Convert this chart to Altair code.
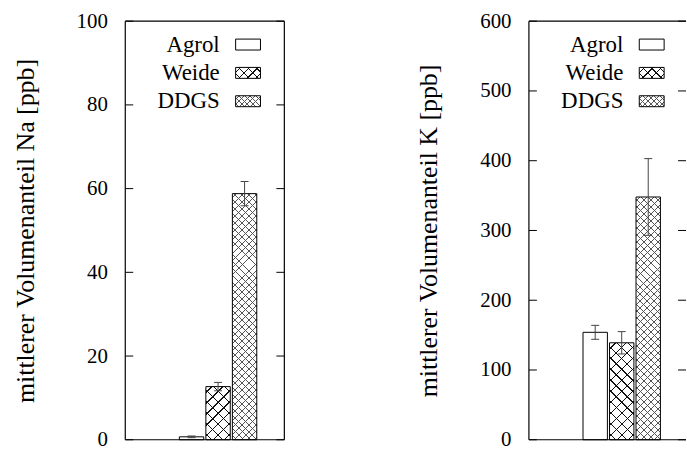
import altair as alt
import pandas as pd

# ---- data ----
categories = ["Agrol", "Weide", "DDGS"]
na_values = [0.7, 12.7, 58.8]
na_errors = [0.2, 1.0, 2.9]
k_values = [154, 139, 348]
k_errors = [10, 16, 55]
na_ticks = [0, 20, 40, 60, 80, 100]
k_ticks = [0, 100, 200, 300, 400, 500, 600]
na_title = "mittlerer Volumenanteil Na [ppb]"
k_title = "mittlerer Volumenanteil K [ppb]"

# ---- styling ----
FONT = "Liberation Serif"
H = 421
UNIT = 160 / 6.0
HALF = 0.46
PATTERNS = {
    "Agrol": None,
    "Weide": dict(p=11, lw=0.9, color="#111111"),
    "DDGS": dict(p=7, lw=0.7, color="#555555"),
}


def hatch(w, h, p, lw, color, slope):
    r = h / w
    k = max(1.0, (w + h) / (w * (1 + r * r)))
    L = k * w * (1 + r * r)
    clear = "rgba(255,255,255,0)"
    stops = [{"offset": 0, "color": clear}]
    t = p / 2.0
    while t < w + h:
        a = t / L
        b = (t + lw * 1.4142) / L
        if b > 1:
            break
        stops += [{"offset": a, "color": clear}, {"offset": a, "color": color},
                  {"offset": b, "color": color}, {"offset": b, "color": clear}]
        t += p
    stops.append({"offset": 1, "color": clear})
    if slope > 0:
        coords = dict(x1=0, y1=0, x2=k, y2=k * r)
    else:
        coords = dict(x1=0, y1=1, x2=k, y2=1 - k * r)
    return alt.LinearGradient(gradient="linear",
                              stops=[alt.GradientStop(**s) for s in stops],
                              **coords)


def panel(values, errors, ticks, ymax, title, W, right_edge):
    df = pd.DataFrame({"cat": categories, "idx": list(range(len(categories))),
                       "v": values, "e": errors})
    xs = alt.Scale(domain=[-2.5, -2.5 + W / UNIT])
    ys = alt.Scale(domain=[0, ymax], nice=False, zero=True)
    yaxis = alt.Axis(values=ticks, ticks=False, tickSize=0, domain=False, grid=False,
                     labelFont=FONT, labelFontSize=21, labelColor="black",
                     labelPadding=18, labelFlush=False,
                     title=title, titleFont=FONT, titleFontSize=26,
                     titleFontWeight="normal", titleColor="black", titlePadding=38)

    def Y(field):
        return alt.Y(field, scale=ys, axis=yaxis)

    base = alt.Chart(df).transform_calculate(
        x0=f"datum.idx - {HALF}", x1=f"datum.idx + {HALF}",
        lo="datum.v - datum.e", hi="datum.v + datum.e",
        c0="datum.idx - 0.15", c1="datum.idx + 0.15", z="0")
    X = alt.X("x0:Q", scale=xs, axis=None)
    X2 = alt.X2("x1:Q")
    layers = []
    layers.append(base.mark_rect(fill="white", strokeWidth=0).encode(
        x=X, x2=X2, y=Y("v:Q"), y2="z:Q"))
    w = 2 * HALF * UNIT
    for i, cat in enumerate(categories):
        pat = PATTERNS[cat]
        if not pat:
            continue
        h = values[i] / ymax * H
        for s in (1, -1):
            layers.append(base.transform_filter(alt.datum.cat == cat).mark_rect(
                fill=hatch(w, h, pat["p"], pat["lw"], pat["color"], s), strokeWidth=0).encode(
                x=X, x2=X2, y=Y("v:Q"), y2="z:Q"))
    layers.append(base.mark_rect(fill="white", fillOpacity=0, stroke="black", strokeWidth=1).encode(
        x=X, x2=X2, y=Y("v:Q"), y2="z:Q"))
    # error bars
    layers.append(base.mark_rule(color="#444444", strokeWidth=1).encode(
        x=alt.X("idx:Q", scale=xs, axis=None), y=Y("lo:Q"), y2="hi:Q"))
    for col in ("lo", "hi"):
        layers.append(base.mark_rule(color="#444444", strokeWidth=1).encode(
            x=alt.X("c0:Q", scale=xs, axis=None), x2="c1:Q", y=Y(f"{col}:Q")))
    # inward ticks on both sides
    tdf = pd.DataFrame({"t": ticks})
    tick_base = alt.Chart(tdf).mark_rule(color="black", strokeWidth=1)
    layers.append(tick_base.encode(y=Y("t:Q"), x=alt.value(0), x2=alt.value(8)))
    layers.append(tick_base.encode(y=Y("t:Q"), x=alt.value(W - 8), x2=alt.value(W)))
    # frame
    one = alt.Chart(pd.DataFrame({"a": [0]}))
    fr = one.mark_rule(color="black", strokeWidth=1.2)
    layers.append(fr.encode(x=alt.value(0), y=alt.value(0), y2=alt.value(H)))
    layers.append(fr.encode(x=alt.value(0), x2=alt.value(W), y=alt.value(0)))
    layers.append(fr.encode(x=alt.value(0), x2=alt.value(W), y=alt.value(H)))
    if right_edge:
        layers.append(fr.encode(x=alt.value(W), y=alt.value(0), y2=alt.value(H)))
    # legend (label left of sample box)
    rows = [23.5, 52, 80.5]
    for i, cat in enumerate(categories):
        yc = rows[i]
        layers.append(one.mark_text(align="right", baseline="middle", font=FONT,
                                    fontSize=23, color="black").encode(
            x=alt.value(95), y=alt.value(yc), text=alt.value(cat)))
        layers.append(one.mark_rect(fill="white", strokeWidth=0).encode(
            x=alt.value(111), x2=alt.value(136), y=alt.value(yc - 5.5), y2=alt.value(yc + 5.5)))
        pat = PATTERNS[cat]
        if pat:
            for s in (1, -1):
                layers.append(one.mark_rect(
                    fill=hatch(25, 11, pat["p"] * 0.8, pat["lw"], pat["color"], s),
                    strokeWidth=0).encode(
                    x=alt.value(111), x2=alt.value(136), y=alt.value(yc - 5.5), y2=alt.value(yc + 5.5)))
        layers.append(one.mark_rect(fill="white", fillOpacity=0, stroke="black", strokeWidth=1).encode(
            x=alt.value(111), x2=alt.value(136), y=alt.value(yc - 5.5), y2=alt.value(yc + 5.5)))
    return alt.layer(*layers).properties(width=W, height=H)


left = panel(na_values, na_errors, na_ticks, 100, na_title, 160, True)
right = panel(k_values, k_errors, k_ticks, 600, k_title, 158, False)

chart = alt.hconcat(left, right, spacing=131).properties(
    padding={"left": 12, "top": 9, "right": 0, "bottom": 0}
).configure_view(stroke=None)

chart.save("out.html", embed_options={"renderer": "svg", "actions": False})
